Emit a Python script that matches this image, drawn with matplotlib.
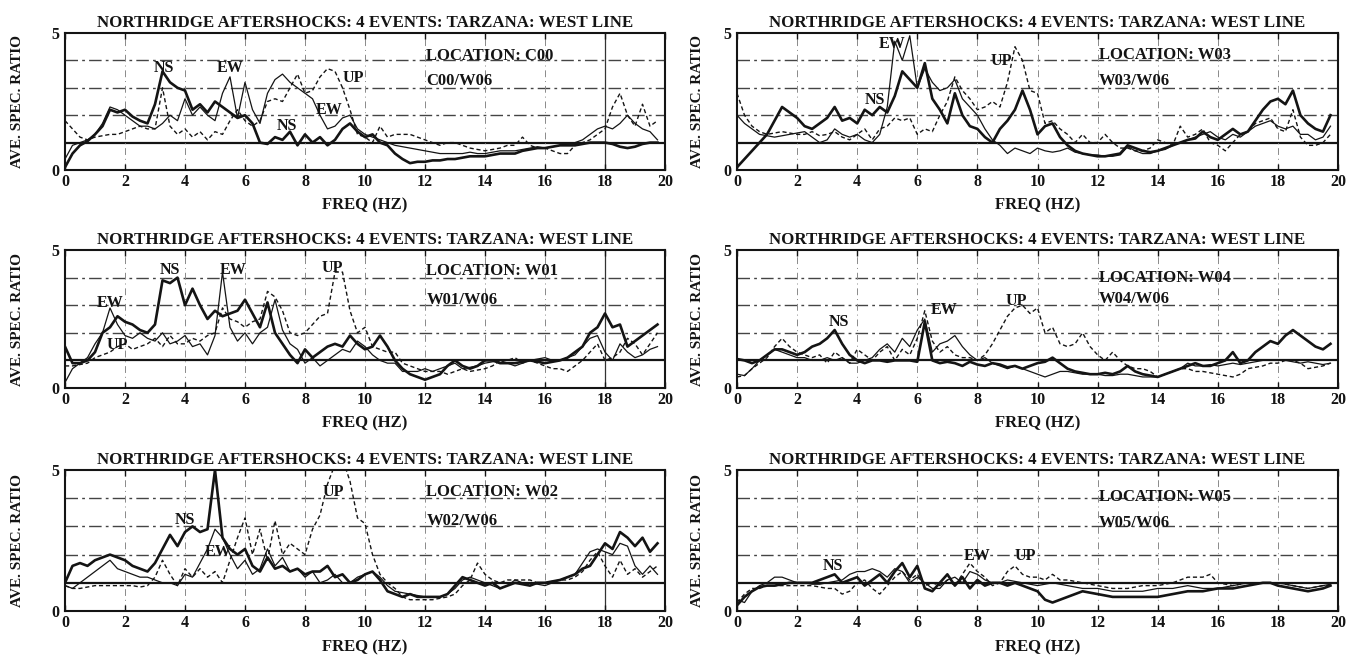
import numpy as np
import matplotlib
matplotlib.use("Agg")
import matplotlib.pyplot as plt

plt.rcParams['font.family'] = ['Liberation Serif', 'DejaVu Serif']
plt.rcParams['font.weight'] = 'bold'

# frequency samples (Hz), 0.25 Hz spacing
freq = np.arange(80) * 0.25

# ---- C00 / W06 ----
c00_ns = [0.1, 0.6, 0.9, 1.05, 1.3, 1.6, 2.2, 2.1,
          2.2, 1.95, 1.8, 1.7, 2.4, 3.6, 3.2, 3.0,
          2.9, 2.2, 2.4, 2.1, 2.5, 2.3, 2.1, 1.9,
          2.0, 1.7, 1.0, 0.95, 1.2, 1.1, 1.4, 0.9,
          1.3, 1.0, 1.2, 0.9, 1.1, 1.5, 1.7, 1.4,
          1.2, 1.3, 1.0, 0.9, 0.6, 0.4, 0.25, 0.3,
          0.3, 0.35, 0.35, 0.4, 0.4, 0.45, 0.5, 0.5,
          0.5, 0.55, 0.6, 0.6, 0.6, 0.7, 0.75, 0.8,
          0.8, 0.85, 0.9, 0.9, 0.9, 0.95, 1.0, 1.0,
          1.0, 0.95, 0.85, 0.8, 0.85, 0.95, 1.0, 1.0]
c00_ew = [0.4, 0.9, 1.0, 1.1, 1.3, 1.7, 2.3, 2.2,
          2.0, 1.8, 1.6, 1.6, 1.5, 1.7, 2.0, 1.8,
          2.6, 2.0, 2.3, 2.0, 1.8, 2.8, 3.4, 1.9,
          3.2, 2.2, 1.7, 2.8, 3.3, 3.5, 3.2, 3.0,
          2.8, 2.6, 2.0, 1.5, 1.6, 1.9, 2.0, 1.5,
          1.3, 1.2, 1.1, 1.0, 0.9, 0.85, 0.8, 0.75,
          0.7, 0.65, 0.6, 0.6, 0.6, 0.6, 0.65, 0.6,
          0.6, 0.65, 0.7, 0.7, 0.7, 0.75, 0.8, 0.85,
          0.8, 0.85, 0.9, 0.95, 1.0, 1.1, 1.3, 1.5,
          1.6, 1.5, 1.7, 2.0, 1.7, 1.5, 1.4, 1.1]
c00_up = [1.8, 1.5, 1.2, 1.1, 1.2, 1.25, 1.3, 1.3,
          1.4, 1.5, 1.6, 1.5, 1.5, 3.0, 1.6, 1.3,
          1.5, 1.2, 1.4, 1.1, 1.4, 1.3, 1.8, 2.2,
          1.8, 1.6, 1.8, 2.5, 2.6, 2.5, 3.0, 3.5,
          2.8, 2.9, 3.4, 3.7, 3.6, 3.0, 2.2, 1.3,
          1.2, 1.0, 1.6, 1.2, 1.3, 1.3, 1.3, 1.2,
          1.1, 1.0, 0.9, 1.0, 1.0, 0.9, 0.8, 0.75,
          0.7, 0.75, 0.8, 0.9, 0.9, 1.2, 0.9, 0.8,
          0.8, 0.7, 0.6, 0.6, 0.9, 1.0, 1.1, 1.3,
          1.5, 2.3, 2.8, 2.0, 1.6, 2.4, 1.6, 1.8]

# ---- W03 / W06 ----
w03_ns = [0.1, 0.4, 0.7, 1.0, 1.3, 1.8, 2.3, 2.1,
          1.9, 1.6, 1.5, 1.7, 1.9, 2.3, 1.8, 1.9,
          1.7, 2.2, 2.0, 2.3, 2.1, 2.7, 3.6, 3.3,
          3.0, 3.9, 2.6, 2.2, 1.7, 2.8, 2.0, 1.6,
          1.5, 1.2, 1.0, 1.5, 1.8, 2.2, 2.9, 2.2,
          1.3, 1.6, 1.7, 1.2, 0.9, 0.7, 0.6, 0.55,
          0.5, 0.5, 0.55, 0.6, 0.9, 0.8, 0.7, 0.65,
          0.7, 0.8, 0.9, 1.0, 1.1, 1.15, 1.4, 1.2,
          1.1, 1.3, 1.5, 1.3, 1.4, 1.8, 2.2, 2.5,
          2.6, 2.4, 2.9, 2.0, 1.7, 1.5, 1.4, 2.0]
w03_ew = [2.0, 1.7, 1.5, 1.3, 1.25, 1.2, 1.25, 1.3,
          1.35, 1.4, 1.2, 1.0, 1.1, 1.5, 1.3, 1.2,
          1.3, 1.1, 1.0, 1.3, 2.3, 4.7, 4.0, 4.9,
          3.0, 3.7, 3.2, 2.9, 3.0, 3.3, 2.6, 2.3,
          2.0, 1.5, 1.1, 0.9, 0.6, 0.8, 0.7, 0.6,
          0.8, 0.7, 0.65, 0.7, 0.8, 0.65, 0.6, 0.55,
          0.55, 0.5, 0.5, 0.55, 0.85, 0.7, 0.6, 0.6,
          0.7, 0.75, 0.9, 1.0, 1.1, 1.2, 1.3, 1.4,
          1.2, 1.1, 1.3, 1.2, 1.4, 1.6, 1.7, 1.8,
          1.6, 1.5, 1.6, 1.3, 1.3, 1.1, 1.2, 1.6]
w03_up = [2.8, 2.0, 1.6, 1.4, 1.3, 1.35, 1.4, 1.35,
          1.3, 1.3, 1.4, 1.25, 1.3, 1.4, 1.2, 1.1,
          1.3, 1.5, 1.1, 1.5, 1.6, 1.9, 1.8, 1.9,
          1.3, 1.5, 1.4, 2.0, 2.5, 3.4, 2.9, 2.6,
          2.2, 2.3, 2.5, 2.3, 3.2, 4.5, 4.0, 2.9,
          2.8, 1.7, 1.8, 1.5, 1.3, 1.0, 1.3, 1.0,
          1.0, 1.3, 1.0, 0.8, 0.8, 0.7, 0.7, 0.8,
          1.1, 1.0, 0.9, 1.6, 1.2, 1.3, 1.5, 1.0,
          0.9, 0.7, 1.0, 1.3, 1.4, 1.7, 1.8, 1.9,
          1.5, 1.4, 2.2, 1.2, 0.9, 0.9, 1.0, 1.3]

# ---- W01 / W06 ----
w01_ns = [1.5, 0.9, 0.9, 1.0, 1.3, 2.0, 2.2, 2.6,
          2.4, 2.3, 2.1, 2.0, 2.3, 3.9, 3.8, 4.0,
          3.0, 3.6, 3.0, 2.5, 2.8, 2.6, 2.7, 2.8,
          3.2, 2.7, 2.2, 3.1, 2.0, 1.6, 1.2, 0.9,
          1.4, 1.1, 1.3, 1.5, 1.6, 1.5, 1.9, 1.6,
          1.4, 1.5, 1.9, 1.5, 1.0, 0.7, 0.5, 0.4,
          0.3, 0.4, 0.5, 0.8, 1.0, 0.8, 0.7, 0.8,
          1.0, 1.0, 0.9, 0.9, 0.9, 0.95, 1.0, 0.95,
          0.9, 0.95, 1.0, 1.1, 1.3, 1.5, 2.0, 2.2,
          2.7, 2.2, 2.3, 1.5, 1.7, 1.9, 2.1, 2.3]
w01_ew = [0.2, 0.7, 0.9, 1.1, 1.6, 2.0, 2.9, 2.3,
          1.9, 1.8, 2.0, 1.8, 1.7, 2.0, 1.6, 1.7,
          1.9, 1.5, 1.6, 1.2, 1.9, 4.2, 2.2, 1.7,
          2.0, 1.6, 2.0, 2.2, 3.2, 2.1, 1.6, 1.4,
          0.9, 1.1, 0.8, 1.0, 1.2, 1.4, 1.3, 1.7,
          1.5, 1.2, 1.0, 0.9, 0.9, 0.6, 0.6, 0.6,
          0.7, 0.6, 0.7, 0.8, 0.9, 0.7, 0.75, 0.8,
          0.9, 0.95, 1.0, 0.9, 0.8, 0.9, 1.0, 1.05,
          1.1, 1.0, 1.0, 1.1, 1.2, 1.5, 1.8, 1.9,
          1.3, 1.0, 1.6, 1.3, 1.1, 1.2, 1.4, 1.5]
w01_up = [0.8, 0.8, 0.85, 0.9, 1.1, 1.2, 1.3, 1.5,
          1.6, 1.4, 1.5, 1.6, 1.8, 1.5, 1.9, 1.6,
          1.6, 1.8, 1.7, 1.9, 2.0, 2.9, 2.5, 2.4,
          2.2, 2.4, 2.5, 3.5, 3.3, 2.8, 2.0, 1.9,
          2.0, 2.3, 2.6, 2.7, 4.2, 4.2, 2.8, 2.0,
          2.2, 1.5, 1.4, 1.3, 1.3, 0.9, 0.8, 0.7,
          0.6, 0.6, 0.6, 0.5, 0.6, 0.7, 0.6, 0.65,
          0.7, 0.8, 1.0, 1.0, 1.1, 0.9, 1.0, 0.9,
          0.8, 0.7, 0.7, 0.6, 0.8, 1.0, 1.3, 1.6,
          1.0, 1.1, 1.3, 1.8, 1.6, 1.2, 1.6, 2.0]

# ---- W04 / W06 ----
w04_ns = [1.05, 1.0, 0.9, 1.0, 1.2, 1.4, 1.4, 1.3,
          1.2, 1.3, 1.5, 1.6, 1.8, 2.1, 1.6, 1.2,
          1.0, 0.9, 1.0, 1.0, 0.95, 1.0, 1.0, 1.0,
          0.95, 2.4, 1.0, 0.9, 0.95, 0.9, 0.8, 0.95,
          0.85, 0.8, 0.9, 0.85, 0.75, 0.8, 0.7, 0.8,
          0.9, 0.95, 1.1, 0.9, 0.7, 0.6, 0.55, 0.5,
          0.5, 0.55, 0.5, 0.6, 0.8, 0.6, 0.5, 0.45,
          0.4, 0.5, 0.6, 0.7, 0.8, 0.9, 0.8, 0.8,
          0.9, 1.0, 1.3, 0.9, 1.0, 1.3, 1.5, 1.7,
          1.6, 1.9, 2.1, 1.9, 1.7, 1.5, 1.4, 1.6]
w04_ew = [0.5, 0.45, 0.7, 1.0, 1.2, 1.4, 1.3, 1.2,
          1.1, 1.1, 1.0, 1.0, 1.1, 1.0, 1.1, 0.9,
          0.9, 1.0, 1.1, 1.4, 1.6, 1.3, 1.8, 1.5,
          2.1, 2.5, 1.3, 1.6, 1.7, 1.9, 1.5, 1.2,
          1.0, 1.1, 0.9, 0.8, 0.7, 0.8, 0.7, 0.6,
          0.5, 0.4, 0.5, 0.6, 0.6, 0.55, 0.5, 0.5,
          0.5, 0.45, 0.45, 0.5, 0.5, 0.45, 0.4, 0.4,
          0.4, 0.5, 0.6, 0.7, 0.9, 0.8, 0.8, 0.85,
          0.8, 0.85, 0.9, 0.85, 0.9, 0.95, 1.0, 1.0,
          1.0, 1.0, 0.95, 0.9, 0.95, 0.9, 0.85, 0.9]
w04_up = [0.4, 0.45, 0.7, 0.9, 1.1, 1.5, 1.8, 1.5,
          1.3, 1.2, 1.1, 1.2, 0.9, 1.3, 1.1, 0.9,
          1.4, 1.2, 1.0, 1.3, 1.5, 1.0, 1.4, 1.2,
          1.8, 2.8, 1.7, 1.3, 1.5, 1.2, 1.1, 1.1,
          1.0, 1.2, 1.6, 2.1, 2.6, 2.9, 3.0, 2.7,
          2.9, 2.0, 2.2, 1.6, 1.5, 1.6, 2.0, 1.5,
          1.2, 1.0, 1.3, 1.0, 0.8, 0.7, 0.7, 0.6,
          0.4, 0.5, 0.6, 0.7, 0.7, 0.6, 0.6, 0.55,
          0.5, 0.45, 0.4, 0.5, 0.7, 0.75, 0.8, 0.9,
          0.9, 1.0, 1.0, 0.9, 0.7, 0.75, 0.8, 0.9]

# ---- W02 / W06 ----
w02_ns = [1.0, 1.6, 1.7, 1.6, 1.8, 1.9, 2.0, 1.9,
          1.8, 1.6, 1.5, 1.4, 1.7, 2.2, 2.7, 2.3,
          2.8, 3.0, 2.8, 2.9, 5.0, 2.6, 2.2, 2.0,
          2.2, 1.6, 1.4, 1.9, 1.5, 1.6, 1.4, 1.5,
          1.3, 1.4, 1.4, 1.6, 1.2, 1.3, 1.0, 1.1,
          1.3, 1.4, 1.1, 0.7, 0.6, 0.5, 0.6, 0.5,
          0.5, 0.5, 0.5, 0.6, 0.9, 1.2, 1.1, 1.0,
          0.9, 1.0, 0.8, 0.9, 1.0, 0.95, 0.9, 1.0,
          1.0, 1.05, 1.1, 1.2, 1.3, 1.5, 1.6, 2.0,
          2.4, 2.2, 2.8, 2.6, 2.3, 2.6, 2.1, 2.4]
w02_ew = [0.9, 0.8, 1.0, 1.2, 1.4, 1.6, 1.8, 1.5,
          1.4, 1.3, 1.2, 1.2, 1.1, 1.0, 1.0, 0.9,
          1.3, 1.2, 1.7, 2.2, 2.9, 2.6, 2.0, 1.5,
          1.8, 1.3, 1.5, 2.2, 1.6, 1.9, 1.4, 1.5,
          1.2, 1.4, 1.0, 1.1, 1.3, 1.0, 1.0, 1.2,
          1.3, 1.4, 1.2, 0.9, 0.7, 0.65, 0.6, 0.55,
          0.5, 0.5, 0.5, 0.6, 0.8, 1.1, 1.2, 1.1,
          1.0, 0.9, 0.8, 0.9, 1.1, 1.0, 1.0, 0.95,
          0.9, 1.0, 1.1, 1.2, 1.3, 1.7, 2.1, 2.2,
          2.1, 2.0, 2.4, 2.3, 1.6, 1.3, 1.6, 1.3]
w02_up = [0.9, 0.8, 0.8, 0.85, 0.9, 0.9, 0.9, 0.9,
          0.9, 0.9, 0.85, 0.9, 1.2, 1.8, 1.3, 0.9,
          1.5, 1.2, 1.5, 1.2, 1.4, 1.0, 1.8, 2.6,
          3.3, 2.0, 2.9, 1.8, 3.2, 2.0, 2.4, 2.2,
          2.0, 2.9, 3.4, 4.5, 5.2, 5.4, 4.6, 3.3,
          3.1, 2.0, 1.3, 1.0, 0.8, 0.5, 0.4, 0.4,
          0.4, 0.4, 0.45, 0.5, 0.6, 0.9, 1.1, 1.7,
          1.3, 1.1, 1.0, 1.1, 1.1, 1.1, 1.1, 1.0,
          1.0, 1.05, 1.1, 1.1, 1.2, 1.4, 1.8, 2.1,
          1.6, 1.2, 1.8, 1.3, 1.5, 1.2, 1.4, 1.6]

# ---- W05 / W06 ----
w05_ns = [0.2, 0.5, 0.7, 0.85, 0.9, 0.9, 0.95, 1.0,
          1.0, 1.0, 1.0, 1.1, 1.2, 1.3, 1.0, 1.1,
          1.2, 0.9, 1.1, 1.3, 1.0, 1.4, 1.7, 1.2,
          1.6, 0.8, 0.7, 1.0, 1.3, 0.9, 1.2, 0.8,
          1.1, 0.9, 1.0, 1.0, 0.9, 1.0, 0.9, 0.8,
          0.7, 0.4, 0.3, 0.4, 0.5, 0.6, 0.7, 0.65,
          0.6, 0.55, 0.5, 0.5, 0.5, 0.5, 0.5, 0.5,
          0.5, 0.55, 0.6, 0.65, 0.7, 0.7, 0.7, 0.75,
          0.8, 0.8, 0.8, 0.85, 0.9, 0.95, 1.0, 1.0,
          0.9, 0.85, 0.8, 0.75, 0.7, 0.75, 0.8, 0.9]
w05_ew = [0.4, 0.3, 0.7, 0.9, 1.0, 1.2, 1.2, 1.1,
          1.0, 1.0, 0.95, 0.95, 1.0, 1.05, 1.1, 1.3,
          1.4, 1.4, 1.5, 1.4, 1.2, 1.5, 1.4, 1.0,
          1.2, 1.0, 0.8, 0.8, 1.1, 1.2, 1.0, 1.4,
          1.3, 1.1, 1.0, 1.0, 1.1, 1.05, 1.0, 0.95,
          0.9, 0.95, 1.0, 0.95, 0.9, 0.85, 0.8, 0.8,
          0.8, 0.75, 0.7, 0.7, 0.7, 0.7, 0.7, 0.75,
          0.8, 0.8, 0.8, 0.85, 0.9, 0.85, 0.8, 0.8,
          0.8, 0.85, 0.9, 0.95, 1.0, 1.0, 1.0, 1.0,
          1.0, 0.95, 0.9, 0.85, 0.8, 0.85, 0.9, 0.95]
w05_up = [0.3, 0.6, 0.8, 0.8, 0.9, 0.9, 0.9, 0.9,
          0.9, 0.9, 0.9, 0.85, 0.8, 0.8, 0.6, 0.7,
          1.0, 1.1, 0.8, 0.6, 0.9, 1.2, 1.4, 1.1,
          1.3, 0.9, 1.0, 0.9, 1.1, 0.9, 1.3, 1.7,
          1.4, 1.2, 0.9, 1.0, 1.4, 1.6, 1.3, 1.2,
          1.2, 1.1, 1.3, 1.1, 1.1, 1.05, 1.0, 0.95,
          0.9, 0.85, 0.8, 0.8, 0.8, 0.85, 0.9, 0.9,
          0.9, 0.95, 1.0, 1.1, 1.2, 1.2, 1.2, 1.3,
          1.0, 0.95, 0.9, 0.95, 1.0, 1.0, 1.0, 1.0,
          1.0, 0.95, 0.9, 0.85, 0.8, 0.85, 0.9, 0.9]

title = 'NORTHRIDGE AFTERSHOCKS: 4 EVENTS: TARZANA: WEST LINE'

# (station, ns, ew, up, curve labels, y of location text, y of ratio text)
panels = [
    ('C00', c00_ns, c00_ew, c00_up,
     [('NS', 3.3, 3.73), ('EW', 5.5, 3.73), ('UP', 9.6, 3.37), ('NS', 7.4, 1.6), ('EW', 8.8, 2.2)], 4.15, 3.25),
    ('W01', w01_ns, w01_ew, w01_up,
     [('NS', 3.5, 4.29), ('EW', 5.6, 4.29), ('UP', 8.9, 4.35), ('EW', 1.5, 3.07), ('UP', 1.75, 1.55)], 4.23, 3.2),
    ('W02', w02_ns, w02_ew, w02_up,
     [('NS', 4.0, 3.24), ('EW', 5.1, 2.08), ('UP', 8.95, 4.23)], 4.23, 3.2),
    ('W03', w03_ns, w03_ew, w03_up,
     [('EW', 5.15, 4.6), ('UP', 8.8, 3.96), ('NS', 4.6, 2.54)], 4.2, 3.25),
    ('W04', w04_ns, w04_ew, w04_up,
     [('NS', 3.4, 2.4), ('EW', 6.9, 2.84), ('UP', 9.3, 3.14)], 3.98, 3.24),
    ('W05', w05_ns, w05_ew, w05_up,
     [('NS', 3.2, 1.59), ('EW', 8.0, 1.96), ('UP', 9.6, 1.96)], 4.06, 3.12),
]

W, H = 1347, 656
col_left = [65, 737]
col_width = [600, 601]
row_span = [(33, 170), (250, 388), (470, 611)]

fig = plt.figure(figsize=(W / 100, H / 100), dpi=100)
ink = '#141414'

for i, (st, ns, ew, up, labels, yloc, yrat) in enumerate(panels):
    col, row = i // 3, i % 3
    top, bot = row_span[row]
    ax = fig.add_axes([col_left[col] / W, (H - bot) / H,
                       col_width[col] / W, (bot - top) / H])

    # grid
    for yv in [2, 3, 4]:
        ax.axhline(yv, color='#444444', lw=1.0, ls=(0, (9, 3, 2, 3)), zorder=1)
    ax.axhline(1, color=ink, lw=1.6, zorder=1)
    for xv in range(2, 20, 2):
        ax.axvline(xv, color='#8a8a8a', lw=0.7, ls=(0, (7, 4, 1, 4)), zorder=1)
    if col == 0:
        ax.axvline(18, ymax=1.0 if row < 2 else 0.42, color='#333333', lw=0.9, zorder=1)

    ax.plot(freq, up, color=ink, lw=1.0, ls=(0, (3, 2)), zorder=3)
    ax.plot(freq, ew, color=ink, lw=0.9, zorder=3)
    ax.plot(freq, ns, color=ink, lw=1.9, zorder=4)

    for txt, xx, yy in labels:
        ax.text(xx, yy, txt, ha='center', va='center', fontsize=11.5,
                fontweight='bold', color=ink, zorder=5)
    ax.text(12.05, yloc, 'LOCATION: ' + st, ha='left', va='center',
            fontsize=12, fontweight='bold', color=ink, zorder=5)
    ax.text(12.05, yrat, st + '/W06', ha='left', va='center',
            fontsize=12, fontweight='bold', color=ink, zorder=5)

    ax.set_xlim(0, 20)
    ax.set_ylim(0, 5)
    ax.set_xticks(range(0, 21, 2))
    ax.set_yticks([0, 5])
    ax.tick_params(direction='in', top=True, length=4, width=1,
                   labelsize=11.5, pad=3, colors=ink)
    ax.tick_params(axis='y', length=0, pad=4)
    for lab in ax.get_xticklabels() + ax.get_yticklabels():
        lab.set_fontweight('bold')
    for sp in ax.spines.values():
        sp.set_linewidth(1.5)
        sp.set_color(ink)

    ax.set_title(title, fontsize=12.2, fontweight='bold', pad=4, color=ink)
    ax.set_xlabel('FREQ (HZ)', fontsize=12, fontweight='bold', color=ink)
    ax.xaxis.set_label_coords(0.5, -0.2)
    ax.set_ylabel('AVE. SPEC. RATIO', fontsize=11, fontweight='bold', color=ink)
    ax.yaxis.set_label_coords(-0.068 if col == 0 else -0.055, 0.5)

fig.savefig('out.png', dpi=100, facecolor='white')
